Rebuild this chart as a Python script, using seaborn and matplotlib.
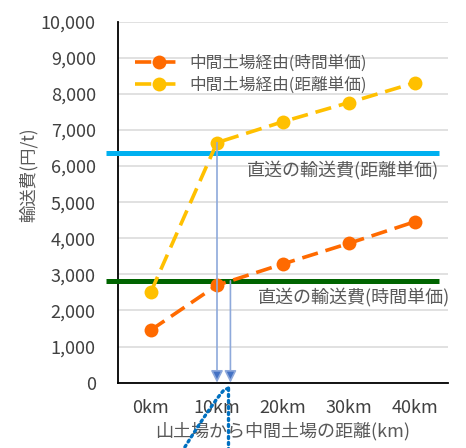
import matplotlib
matplotlib.use("Agg")
import matplotlib.pyplot as plt
import seaborn as sns
import pandas as pd
import numpy as np

# distances from the mountain landing to the intermediate landing
distances = ["0km", "10km", "20km", "30km", "40km"]
# cost via intermediate landing (yen/t)
via_time_rate = [1460, 2700, 3290, 3860, 4460]
via_distance_rate = [2520, 6650, 7230, 7760, 8310]
# direct transport cost (yen/t)
direct_distance_rate = 6350
direct_time_rate = 2820

series_names = ["中間土場経由(時間単価)", "中間土場経由(距離単価)"]
direct_names = ["直送の輸送費(距離単価)", "直送の輸送費(時間単価)"]
y_ticks = list(range(0, 10001, 1000))

sns.set_theme(style="white")
plt.rcParams["font.family"] = ["Noto Sans CJK JP", "DejaVu Sans"]

fig = plt.figure(figsize=(4.66, 4.48), dpi=100)
ax = fig.add_axes([0.2532, 0.1458, 0.7082, 0.8058])

df = pd.DataFrame({
    "pos": list(range(len(distances))) * 2,
    "cost": via_time_rate + via_distance_rate,
    "series": [series_names[0]] * 5 + [series_names[1]] * 5,
})

colors = {series_names[0]: "#FF6A00", series_names[1]: "#FFC000"}
for name in series_names:
    sub = df[df["series"] == name]
    sns.lineplot(data=sub, x="pos", y="cost", ax=ax, color=colors[name],
                 marker="o", markersize=10, markeredgewidth=0,
                 linewidth=2.6, dashes=False, label=name, zorder=4)
for line in ax.get_lines():
    line.set_dashes([4.5, 2.2])

ax.set_xlim(-0.5, len(distances) - 0.5)
ax.set_ylim(0, 10000)
ax.set_yticks(y_ticks)
ax.set_yticklabels([f"{v:,}" for v in y_ticks])
ax.set_xticks(range(len(distances)))
ax.set_xticklabels(distances)
ax.tick_params(axis="both", labelsize=13, labelcolor="#404040", length=0)
ax.tick_params(axis="y", pad=16)
ax.tick_params(axis="x", pad=12)
ax.grid(axis="y", color="#D9D9D9", linewidth=1.1)
ax.set_axisbelow(True)
for side in ["top", "right"]:
    ax.spines[side].set_visible(False)
for side in ["left", "bottom"]:
    ax.spines[side].set_color("black")
    ax.spines[side].set_linewidth(1.3)

ax.set_xlabel("山土場から中間土場の距離(km)", fontsize=13, color="#595959", labelpad=3)
ax.set_ylabel("輸送費(円/t)", fontsize=12.5, color="#595959")
ax.yaxis.set_label_coords(-0.243, 0.575)

# direct transport cost lines, running slightly past the left spine
trans = ax.get_yaxis_transform()
ax.plot([-0.037, 0.973], [direct_distance_rate] * 2, color="#00B0F0", linewidth=3.6,
        transform=trans, clip_on=False, zorder=3, solid_capstyle="butt")
ax.plot([-0.037, 0.973], [direct_time_rate] * 2, color="#006400", linewidth=3.6,
        transform=trans, clip_on=False, zorder=3, solid_capstyle="butt")
ax.text(1.45, direct_distance_rate - 450, direct_names[0], fontsize=13, color="#595959",
        ha="left", va="center")
ax.text(1.62, direct_time_rate - 450, direct_names[1], fontsize=13, color="#595959",
        ha="left", va="center")

# break-even arrows down to the distance axis
seg = 1
cross_x = seg + (direct_time_rate - via_time_rate[seg]) / (via_time_rate[seg + 1] - via_time_rate[seg])
for x0, y0 in [(1.0, via_distance_rate[1]), (cross_x, direct_time_rate)]:
    ax.annotate("", xy=(x0, 0), xytext=(x0, y0),
                arrowprops=dict(arrowstyle="-|>,head_length=0.6,head_width=0.3",
                                color="#8EA9DB", lw=1.2, shrinkA=0, shrinkB=0,
                                fc="#4472C4", ec="#8EA9DB"),
                zorder=5, annotation_clip=False)

# dotted leader lines below the axis
xs = cross_x - 0.03
ax.plot([xs, xs], [-150, -1900], color="#0070C0", linewidth=2.4, linestyle=(0, (0.6, 1.2)),
        clip_on=False, dash_capstyle="round", zorder=5)
t = np.linspace(0, 1, 30)
cx = xs - 0.04 - 0.66 * t ** 0.9
cy = -150 - 1750 * t
cx[0] = xs
ax.plot(cx, cy, color="#0070C0", linewidth=2.4, linestyle=(0, (0.6, 1.2)),
        clip_on=False, dash_capstyle="round", zorder=5)

leg = ax.legend(loc="upper left", bbox_to_anchor=(0.03, 0.927), frameon=False,
                fontsize=12, handlelength=2.9, labelspacing=0.3, handletextpad=0.4,
                labelcolor="#595959", borderaxespad=0)
for h in leg.get_lines():
    h.set_dashes([4.5, 2.2])

fig.savefig("out.png", dpi=100)
